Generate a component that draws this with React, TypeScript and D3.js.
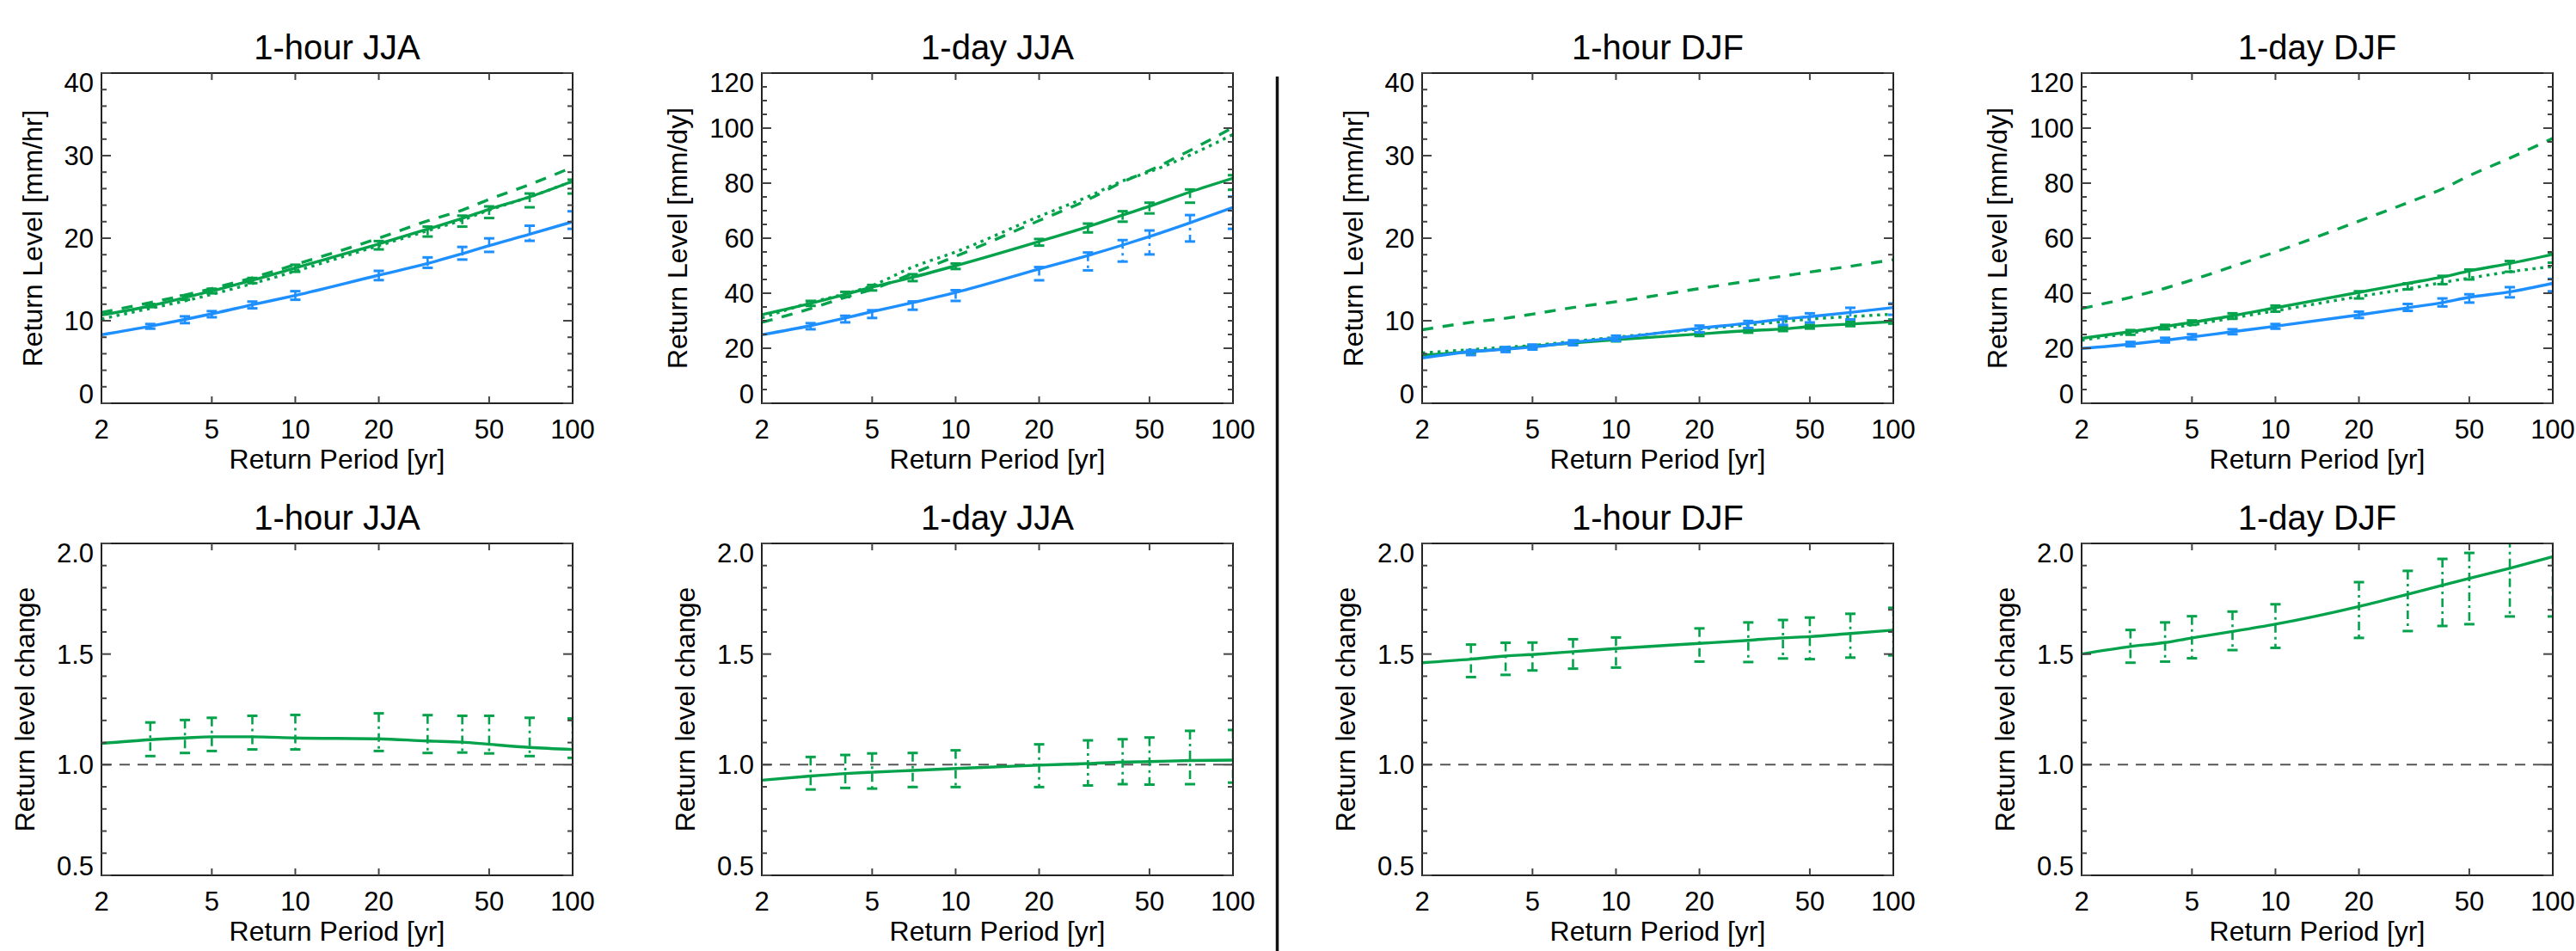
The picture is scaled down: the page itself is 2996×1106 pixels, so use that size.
import React from "react";
import * as d3 from "d3";

const W = 2996;
const H = 1106;
const GREEN = "#05a24c";
const BLUE = "#1e8fff";
const FONT = '"Liberation Sans", Arial, Helvetica, sans-serif';

// return periods where the curves are read, and where the error bars sit
const periods = [2, 3, 4, 5, 7, 10, 20, 30, 40, 50, 70, 100];
const barPeriods = [3, 4, 5, 7, 10, 20, 30, 40, 50, 70, 100];
const xTickValues = [2, 5, 10, 20, 50, 100];

// 1-hour JJA return levels [mm/hr]
const hJjaBlue = [8.3, 9.34, 10.16, 10.83, 11.94, 13.06, 15.52, 16.93, 18.12, 19.09, 20.47, 21.99];
const hJjaBlueLo = [9.04, 9.71, 10.42, 11.5, 12.54, 14.92, 16.41, 17.41, 18.34, 19.68, 21.13];
const hJjaBlueHi = [9.6, 10.53, 11.16, 12.32, 13.58, 16.04, 17.67, 18.94, 19.98, 21.51, 23.26];
const hJjaGreen = [10.7, 11.8, 12.8, 13.6, 14.9, 16.4, 19.3, 21.1, 22.4, 23.5, 25.0, 26.9];
const hJjaGreenLo = [11.65, 12.54, 13.32, 14.55, 15.93, 18.64, 20.2, 21.4, 22.44, 23.74, 25.41];
const hJjaGreenHi = [12.02, 13.06, 13.88, 15.18, 16.78, 19.65, 21.4, 22.73, 23.85, 25.41, 27.09];
const hJjaDashed = [11.0, 12.2, 13.1, 13.9, 15.2, 16.8, 20.0, 22.1, 23.4, 24.7, 26.5, 28.6];
const hJjaDotted = [10.2, 11.5, 12.4, 13.2, 14.5, 16.0, 19.1, 20.9, 22.2, 23.4, 25.0, 26.9];

// 1-day JJA return levels [mm/dy]
const dJjaBlue = [24.9, 28.2, 31.0, 33.3, 36.6, 40.3, 48.8, 53.7, 57.5, 60.6, 65.6, 71.2];
const dJjaBlueLo = [26.9, 29.4, 31.0, 34.0, 37.2, 44.7, 48.3, 51.5, 54.1, 58.8, 63.4];
const dJjaBlueHi = [29.1, 31.8, 33.8, 37.0, 41.1, 49.5, 54.8, 59.3, 62.8, 68.4, 75.1];
const dJjaGreen = [32.2, 36.3, 39.6, 42.2, 45.8, 50.0, 58.8, 64.2, 68.4, 71.6, 76.8, 81.8];
const dJjaGreenLo = [35.4, 38.6, 41.0, 44.4, 48.8, 57.3, 62.1, 66.0, 69.0, 72.9, 77.6];
const dJjaGreenHi = [37.2, 40.5, 43.0, 46.9, 50.8, 59.7, 65.3, 69.8, 72.9, 77.7, 82.9];
const dJjaDashed = [29.4, 34.4, 38.5, 41.4, 47.2, 53.4, 66.4, 74.0, 80.4, 84.6, 91.9, 100.2];
const dJjaDotted = [31.0, 36.6, 39.8, 42.8, 49.5, 55.0, 67.9, 75.1, 80.8, 84.1, 90.2, 97.7];

// 1-hour DJF return levels [mm/hr]
const hDjfBlue = [5.5, 6.25, 6.55, 6.81, 7.4, 7.9, 9.1, 9.7, 10.2, 10.5, 11.0, 11.6];
const hDjfBlueLo = [5.84, 6.21, 6.51, 7.03, 7.55, 8.6, 9.12, 9.49, 9.79, 10.16, 10.72];
const hDjfBlueHi = [6.44, 6.81, 7.11, 7.63, 8.19, 9.41, 9.97, 10.53, 10.9, 11.57, 12.09];
const hDjfGreen = [5.8, 6.25, 6.6, 6.9, 7.3, 7.7, 8.4, 8.8, 9.0, 9.3, 9.6, 9.9];
const hDjfGreenLo = [6.1, 6.45, 6.75, 7.1, 7.5, 8.15, 8.55, 8.75, 9.05, 9.35, 9.65];
const hDjfGreenHi = [6.4, 6.75, 7.05, 7.45, 7.9, 8.6, 9.0, 9.25, 9.5, 9.85, 10.15];
const hDjfDashed = [8.9, 9.8, 10.3, 10.8, 11.6, 12.3, 13.9, 14.8, 15.4, 15.9, 16.6, 17.4];
const hDjfDotted = [6.1, 6.5, 6.8, 7.0, 7.5, 8.0, 9.0, 9.5, 9.9, 10.2, 10.5, 10.8];

// 1-day DJF return levels [mm/dy]
const dDjfBlue = [19.9, 21.5, 22.9, 24.1, 26.0, 28.0, 32.1, 34.7, 36.6, 38.5, 40.5, 43.6];
const dDjfBlueLo = [20.7, 22.1, 23.2, 25.1, 27.1, 31.0, 33.6, 35.2, 36.6, 38.5, 40.7];
const dDjfBlueHi = [22.3, 23.8, 25.1, 26.9, 28.8, 33.3, 36.1, 38.1, 39.6, 42.2, 45.2];
const dDjfGreen = [23.6, 26.0, 27.9, 29.4, 31.8, 34.7, 40.3, 43.6, 45.9, 48.1, 50.8, 54.1];
const dDjfGreenLo = [24.9, 26.9, 28.5, 30.7, 33.3, 38.1, 41.4, 43.3, 45.0, 47.8, 51.1];
const dDjfGreenHi = [26.6, 28.5, 30.1, 32.7, 35.5, 40.7, 43.6, 46.3, 48.6, 51.7, 54.8];
const dDjfDashed = [34.4, 38.5, 41.8, 44.8, 49.7, 55.0, 66.2, 72.9, 77.9, 82.7, 89.1, 96.3];
const dDjfDotted = [22.9, 25.5, 27.3, 28.5, 31.0, 33.6, 38.8, 41.6, 43.9, 45.5, 47.8, 49.7];

// return level change ratios
const hJjaRatio = [1.096, 1.113, 1.121, 1.126, 1.126, 1.121, 1.117, 1.107, 1.102, 1.092, 1.078, 1.069];
const hJjaRatioLo = [1.039, 1.053, 1.062, 1.069, 1.069, 1.062, 1.053, 1.055, 1.051, 1.039, 1.031];
const hJjaRatioHi = [1.191, 1.202, 1.212, 1.221, 1.225, 1.232, 1.224, 1.221, 1.221, 1.212, 1.209];

const dJjaRatio = [0.93, 0.949, 0.96, 0.966, 0.974, 0.983, 0.998, 1.005, 1.012, 1.014, 1.019, 1.021];
const dJjaRatioLo = [0.888, 0.895, 0.892, 0.899, 0.899, 0.899, 0.906, 0.912, 0.91, 0.912, 0.919];
const dJjaRatioHi = [1.035, 1.044, 1.051, 1.053, 1.065, 1.092, 1.11, 1.115, 1.123, 1.153, 1.157];

const hDjfRatio = [1.461, 1.477, 1.491, 1.498, 1.511, 1.525, 1.548, 1.562, 1.573, 1.579, 1.593, 1.608];
const hDjfRatioLo = [1.396, 1.406, 1.426, 1.434, 1.439, 1.466, 1.464, 1.48, 1.477, 1.484, 1.494];
const hDjfRatioHi = [1.543, 1.551, 1.552, 1.567, 1.575, 1.616, 1.643, 1.654, 1.665, 1.682, 1.709];

const dDjfRatio = [1.5, 1.534, 1.552, 1.573, 1.602, 1.635, 1.715, 1.77, 1.811, 1.842, 1.888, 1.94];
const dDjfRatioLo = [1.461, 1.466, 1.481, 1.518, 1.528, 1.573, 1.604, 1.627, 1.635, 1.67, 1.67];
const dDjfRatioHi = [1.609, 1.643, 1.671, 1.692, 1.725, 1.825, 1.876, 1.93, 1.957, 2.02, 2.12];

// layout
const colLeft = [118, 886, 1654, 2421];
const plotW = 548;
const rowTop = [85, 632];
const plotH = [384, 386];

type Series = { values: number[]; color: string; dash?: string; lo?: number[]; hi?: number[] };
type PanelDef = {
  id: string;
  title: string;
  ylabel: string;
  col: number;
  row: number;
  yDomain: [number, number];
  yStep: number;
  yMinor: number;
  fmt: (v: number) => string;
  series: Series[];
  refLine?: number;
};

const DASHED = "13,11";
const DOTTED = "3.5,5.5";

const intFmt = d3.format("d");
const decFmt = d3.format(".1f");

const panels: PanelDef[] = [
  {
    id: "p1", title: "1-hour JJA", ylabel: "Return Level [mm/hr]", col: 0, row: 0,
    yDomain: [0, 40], yStep: 10, yMinor: 2, fmt: intFmt,
    series: [
      { values: hJjaDashed, color: GREEN, dash: DASHED },
      { values: hJjaDotted, color: GREEN, dash: DOTTED },
      { values: hJjaGreen, color: GREEN, lo: hJjaGreenLo, hi: hJjaGreenHi },
      { values: hJjaBlue, color: BLUE, lo: hJjaBlueLo, hi: hJjaBlueHi },
    ],
  },
  {
    id: "p2", title: "1-day JJA", ylabel: "Return Level [mm/dy]", col: 1, row: 0,
    yDomain: [0, 120], yStep: 20, yMinor: 5, fmt: intFmt,
    series: [
      { values: dJjaDashed, color: GREEN, dash: DASHED },
      { values: dJjaDotted, color: GREEN, dash: DOTTED },
      { values: dJjaGreen, color: GREEN, lo: dJjaGreenLo, hi: dJjaGreenHi },
      { values: dJjaBlue, color: BLUE, lo: dJjaBlueLo, hi: dJjaBlueHi },
    ],
  },
  {
    id: "p3", title: "1-hour DJF", ylabel: "Return Level [mm/hr]", col: 2, row: 0,
    yDomain: [0, 40], yStep: 10, yMinor: 2, fmt: intFmt,
    series: [
      { values: hDjfDashed, color: GREEN, dash: DASHED },
      { values: hDjfDotted, color: GREEN, dash: DOTTED },
      { values: hDjfGreen, color: GREEN, lo: hDjfGreenLo, hi: hDjfGreenHi },
      { values: hDjfBlue, color: BLUE, lo: hDjfBlueLo, hi: hDjfBlueHi },
    ],
  },
  {
    id: "p4", title: "1-day DJF", ylabel: "Return Level [mm/dy]", col: 3, row: 0,
    yDomain: [0, 120], yStep: 20, yMinor: 5, fmt: intFmt,
    series: [
      { values: dDjfDashed, color: GREEN, dash: DASHED },
      { values: dDjfDotted, color: GREEN, dash: DOTTED },
      { values: dDjfGreen, color: GREEN, lo: dDjfGreenLo, hi: dDjfGreenHi },
      { values: dDjfBlue, color: BLUE, lo: dDjfBlueLo, hi: dDjfBlueHi },
    ],
  },
  {
    id: "p5", title: "1-hour JJA", ylabel: "Return level change", col: 0, row: 1,
    yDomain: [0.5, 2.0], yStep: 0.5, yMinor: 0.1, fmt: decFmt, refLine: 1.0,
    series: [{ values: hJjaRatio, color: GREEN, lo: hJjaRatioLo, hi: hJjaRatioHi }],
  },
  {
    id: "p6", title: "1-day JJA", ylabel: "Return level change", col: 1, row: 1,
    yDomain: [0.5, 2.0], yStep: 0.5, yMinor: 0.1, fmt: decFmt, refLine: 1.0,
    series: [{ values: dJjaRatio, color: GREEN, lo: dJjaRatioLo, hi: dJjaRatioHi }],
  },
  {
    id: "p7", title: "1-hour DJF", ylabel: "Return level change", col: 2, row: 1,
    yDomain: [0.5, 2.0], yStep: 0.5, yMinor: 0.1, fmt: decFmt, refLine: 1.0,
    series: [{ values: hDjfRatio, color: GREEN, lo: hDjfRatioLo, hi: hDjfRatioHi }],
  },
  {
    id: "p8", title: "1-day DJF", ylabel: "Return level change", col: 3, row: 1,
    yDomain: [0.5, 2.0], yStep: 0.5, yMinor: 0.1, fmt: decFmt, refLine: 1.0,
    series: [{ values: dDjfRatio, color: GREEN, lo: dDjfRatioLo, hi: dDjfRatioHi }],
  },
];

const TICK_FS = 31;
const AXIS_FS = 32;
const TITLE_FS = 40;

// rough Helvetica advance widths for the numeric labels
function labelWidth(s: string, fs: number) {
  let w = 0;
  for (const c of s) w += c === "." ? 0.278 : 0.556;
  return w * fs;
}

function Panel({ p }: { p: PanelDef }) {
  const left = colLeft[p.col];
  const right = left + plotW;
  const top = rowTop[p.row];
  const bottom = top + plotH[p.row];

  const x = d3.scaleLog().domain([2, 100]).range([left, right]);
  const y = d3.scaleLinear().domain(p.yDomain).range([bottom, top]);

  const line = d3
    .line<number>()
    .x((_, i) => x(periods[i]))
    .y((v) => y(v))
    .curve(d3.curveMonotoneX);

  const eps = 1e-6;
  const yMajor = d3.range(p.yDomain[0], p.yDomain[1] + eps, p.yStep);
  const yMinor = d3
    .range(p.yDomain[0], p.yDomain[1] + eps, p.yMinor)
    .filter((v) => !yMajor.some((m) => Math.abs(m - v) < p.yMinor / 10));

  const labels = yMajor.map(p.fmt);
  const maxLabelW = d3.max(labels, (l) => labelWidth(l, TICK_FS)) || 0;
  const ytitleX = left - maxLabelW - 35;
  const digitH = 0.716 * TICK_FS;

  const clipId = `clip-${p.id}`;

  return (
    <g>
      <defs>
        <clipPath id={clipId}>
          <rect x={left} y={top} width={right - left} height={bottom - top} />
        </clipPath>
      </defs>

      <g clipPath={`url(#${clipId})`}>
        {p.refLine !== undefined && (
          <line
            x1={left}
            x2={right}
            y1={y(p.refLine)}
            y2={y(p.refLine)}
            stroke="#555"
            strokeWidth={2}
            strokeDasharray="12,9"
          />
        )}
        {p.series.map((s, si) => (
          <g key={si}>
            <path
              d={line(s.values) || ""}
              fill="none"
              stroke={s.color}
              strokeWidth={3.4}
              strokeDasharray={s.dash}
            />
            {s.lo &&
              s.hi &&
              barPeriods.map((bp, i) => {
                const bx = x(bp);
                const y1 = y(s.lo![i]);
                const y2 = y(s.hi![i]);
                return (
                  <g key={i} stroke={s.color} strokeWidth={3}>
                    <line x1={bx} x2={bx} y1={y2} y2={y1} strokeWidth={2.6} strokeDasharray="10,5,3,5" />
                    <line x1={bx - 6} x2={bx + 6} y1={y1} y2={y1} />
                    <line x1={bx - 6} x2={bx + 6} y1={y2} y2={y2} />
                  </g>
                );
              })}
          </g>
        ))}
      </g>

      {/* frame */}
      <rect x={left} y={top} width={right - left} height={bottom - top} fill="none" stroke="#222" strokeWidth={2} />

      {/* x ticks */}
      {xTickValues
        .filter((v) => v !== 2 && v !== 100)
        .map((v) => (
          <g key={v} stroke="#444" strokeWidth={2}>
            <line x1={x(v)} x2={x(v)} y1={bottom} y2={bottom - 8} />
            <line x1={x(v)} x2={x(v)} y1={top} y2={top + 8} />
          </g>
        ))}
      {xTickValues.map((v) => (
        <text key={v} x={x(v)} y={bottom + 41} textAnchor="middle" fontSize={TICK_FS} fill="#000">
          {v}
        </text>
      ))}

      {/* y ticks */}
      {yMajor.map((v) => (
        <g key={`M${v}`} stroke="#444" strokeWidth={2}>
          <line x1={left} x2={left + 11} y1={y(v)} y2={y(v)} />
          <line x1={right} x2={right - 11} y1={y(v)} y2={y(v)} />
        </g>
      ))}
      {yMinor.map((v) => (
        <g key={`m${v}`} stroke="#444" strokeWidth={2}>
          <line x1={left} x2={left + 6} y1={y(v)} y2={y(v)} />
          <line x1={right} x2={right - 6} y1={y(v)} y2={y(v)} />
        </g>
      ))}
      {yMajor.map((v, i) => {
        const base = Math.min(bottom, Math.max(top + digitH, y(v) + digitH / 2));
        return (
          <text key={`l${v}`} x={left - 9} y={base} textAnchor="end" fontSize={TICK_FS} fill="#000">
            {labels[i]}
          </text>
        );
      })}

      {/* titles */}
      <text x={(left + right) / 2} y={top - 16} textAnchor="middle" fontSize={TITLE_FS} fill="#000">
        {p.title}
      </text>
      <text x={(left + right) / 2} y={bottom + 76} textAnchor="middle" fontSize={AXIS_FS} fill="#000">
        Return Period [yr]
      </text>
      <text
        transform={`translate(${ytitleX},${(top + bottom) / 2}) rotate(-90)`}
        textAnchor="middle"
        fontSize={AXIS_FS}
        fill="#000"
      >
        {p.ylabel}
      </text>
    </g>
  );
}

export default function App() {
  return (
    <svg
      width={W}
      height={H}
      viewBox={`0 0 ${W} ${H}`}
      style={{ position: "absolute", left: 0, top: 0, background: "#fff" }}
      fontFamily={FONT}
    >
      <rect x={0} y={0} width={W} height={H} fill="#fff" />
      {panels.map((p) => (
        <Panel key={p.id} p={p} />
      ))}
      {/* divider between JJA and DJF columns */}
      <line x1={1485.5} x2={1485.5} y1={89} y2={H} stroke="#111" strokeWidth={3.5} />
    </svg>
  );
}
